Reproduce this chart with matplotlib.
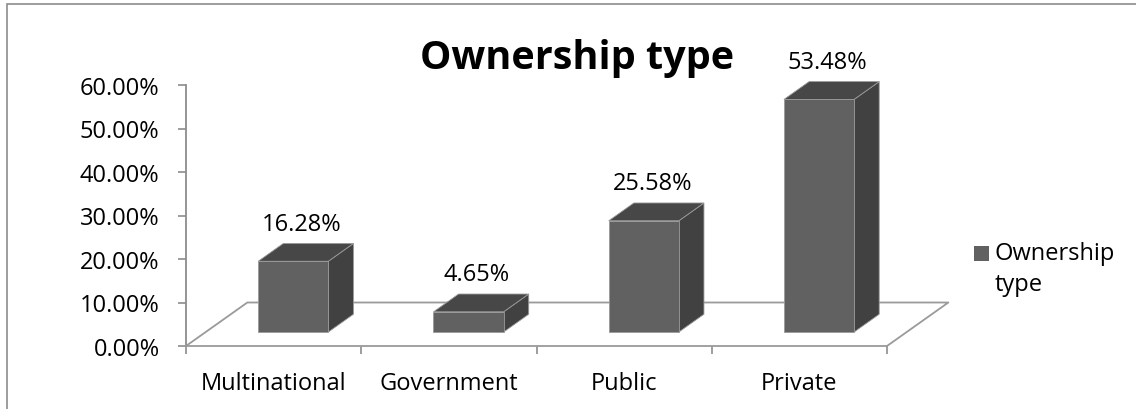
import matplotlib
matplotlib.use("Agg")
import matplotlib.pyplot as plt
from matplotlib.patches import Polygon, Rectangle
from matplotlib.ticker import FixedLocator, PercentFormatter

categories = ["Multinational", "Government", "Public", "Private"]
values = [16.28, 4.65, 25.58, 53.48]
value_labels = ["16.28%", "4.65%", "25.58%", "53.48%"]
title = "Ownership type"
series_name = "Ownership type"
y_ticks = [0, 10, 20, 30, 40, 50, 60]

plt.rcParams['font.family'] = ['Open Sans', 'DejaVu Sans']
FS = 17

W, H = 1136, 410
fig = plt.figure(figsize=(W / 100, H / 100), dpi=100)
fig.patch.set_facecolor("white")

# outer chart border
fig.add_artist(Rectangle((7 / W, -0.1), 1.2, 1 - 5 / H + 0.1, transform=fig.transFigure,
                         fill=False, edgecolor="#8c8c8c", linewidth=1.2))

ax = fig.add_axes([186 / W, (H - 347) / H, 701 / W, 261 / H])
ax.set_xlim(0, len(categories))
ax.set_ylim(0, 60)
ax.patch.set_alpha(0)

# depth (in data units) of the 3D floor
dx, dy = 0.35, 10.0
f1, f2 = 0.32, 0.73  # bar front/back depth fractions
bw = 0.40

front_c, side_c, top_c, edge_c = "#616161", "#414141", "#474747", "#9a9a9a"
grid_c = "#9a9a9a"

n = len(categories)
ax.plot([0, dx, n + dx, n], [0, dy, dy, 0], color=grid_c, lw=1.3, clip_on=False, zorder=1)

for i, v in enumerate(values):
    cx = i + 0.5
    x0 = cx - bw / 2 + f1 * dx
    x1 = x0 + bw
    yb = f1 * dy
    yt = yb + v
    ox, oy = (f2 - f1) * dx, (f2 - f1) * dy
    front = [(x0, yb), (x1, yb), (x1, yt), (x0, yt)]
    side = [(x1, yb), (x1 + ox, yb + oy), (x1 + ox, yt + oy), (x1, yt)]
    top = [(x0, yt), (x1, yt), (x1 + ox, yt + oy), (x0 + ox, yt + oy)]
    for poly, c in ((side, side_c), (top, top_c), (front, front_c)):
        ax.add_patch(Polygon(poly, closed=True, facecolor=c, edgecolor=edge_c,
                             linewidth=0.6, clip_on=False, zorder=3))
    ax.text((x0 + x1) / 2 + ox / 3, yt + oy + 1.8, value_labels[i], ha="center", va="bottom",
            fontsize=FS, color="black", clip_on=False, zorder=4)

for s in ("top", "right"):
    ax.spines[s].set_visible(False)
ax.spines["left"].set_color("#8c8c8c")
ax.spines["bottom"].set_color(grid_c)
ax.spines["left"].set_linewidth(1.3)
ax.spines["bottom"].set_linewidth(1.3)
ax.set_zorder(2)

ax.yaxis.set_major_locator(FixedLocator(y_ticks))
ax.yaxis.set_major_formatter(PercentFormatter(decimals=2))
ax.tick_params(axis="y", length=6, width=1.2, color="#8c8c8c", pad=13, labelsize=FS)

ax.set_xticks(range(n + 1))
ax.set_xticklabels([""] * (n + 1))
ax.set_xticks([i + 0.5 for i in range(n)], minor=True)
ax.set_xticklabels(categories, minor=True)
ax.tick_params(axis="x", which="major", length=6, width=1.2, color="#8c8c8c")
ax.tick_params(axis="x", which="minor", length=0, pad=18, labelsize=FS)

fig.text(577 / W, 1 - 59 / H, title, ha="center", va="center", fontsize=28.5,
         fontweight="bold", color="black")

fig.add_artist(Rectangle((974 / W, 1 - 262 / H), 15 / W, 15 / H, transform=fig.transFigure,
                         facecolor=front_c, edgecolor="none"))
fig.text(995 / W, 1 - 254 / H, "Ownership", ha="left", va="center", fontsize=FS)
fig.text(995 / W, 1 - 285 / H, "type", ha="left", va="center", fontsize=FS)

fig.savefig("out.png", dpi=100, facecolor="white")
